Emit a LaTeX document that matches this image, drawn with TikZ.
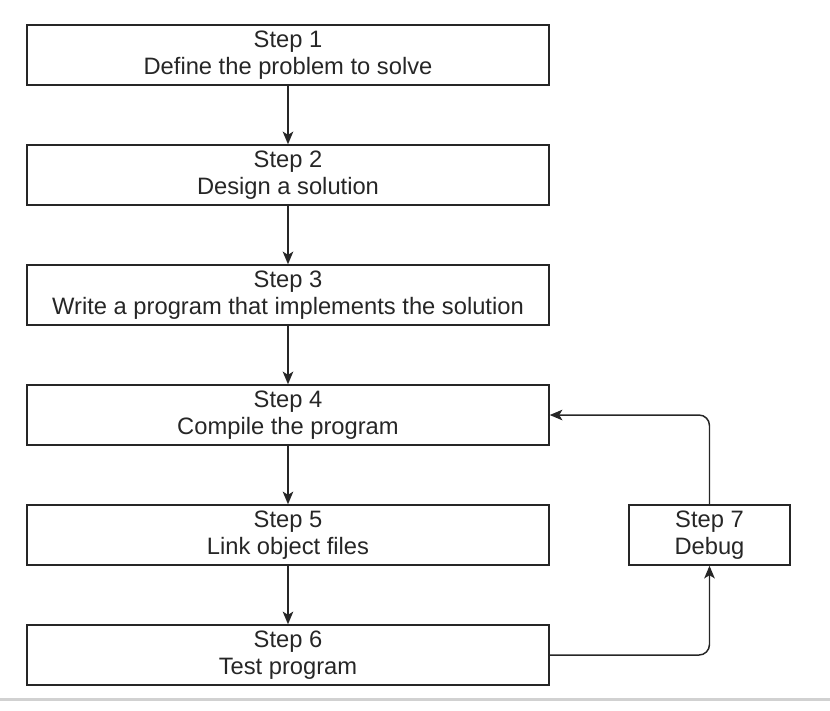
\documentclass[tikz,border=0pt]{standalone}
\usepackage{fontspec}
\setmainfont{Liberation Sans}
\usetikzlibrary{arrows.meta, positioning}
\tikzstyle{flow} = [line width=1.4pt, -{Stealth[length=12pt, width=10pt, inset=3pt]}, draw=black!85, rounded corners=0.35cm]
\tikzstyle{stepbox} = [rectangle, minimum width=17.4cm, minimum height=2cm, text centered, align=center, draw=black!85, line width=1.4pt, text=black!85, font=\fontsize{22.5}{26}\selectfont]

\begin{document}
\begin{tikzpicture}
    \useasboundingbox (0,0) rectangle (27.667,23.667);
    % Steps
    \node[stepbox] (step1) at (9.6, 21.833) {Step 1\\Define the problem to solve};
    \node[stepbox] (step2) at (9.6, 17.833) {Step 2\\Design a solution};
    \node[stepbox] (step3) at (9.6, 13.833) {Step 3\\Write a program that implements the solution};
    \node[stepbox] (step4) at (9.6, 9.833) {Step 4\\Compile the program};
    \node[stepbox] (step5) at (9.6, 5.833) {Step 5\\Link object files};
    \node[stepbox] (step6) at (9.6, 1.833) {Step 6\\Test program};
    
    % Debug
    \node[stepbox, minimum width=5.37cm] (step7) at (23.65, 5.833) {Step 7\\Debug};
    
    % Bottom rule
    \coordinate (ruleL) at (0, 0.35);
    \coordinate (ruleR) at (27.667, 0.35);
    \draw[line width=0.1cm, black!18] (ruleL) -- (ruleR);
    
    % Arrows
    \draw[flow] (step1) -- (step2);
    \draw[flow] (step2) -- (step3);
    \draw[flow] (step3) -- (step4);
    \draw[flow] (step4) -- (step5);
    \draw[flow] (step5) -- (step6);
    \draw[flow] (step6.east) -| (step7.south);
    \draw[flow] (step7.north) |- (step4.east);
\end{tikzpicture}
\end{document}
